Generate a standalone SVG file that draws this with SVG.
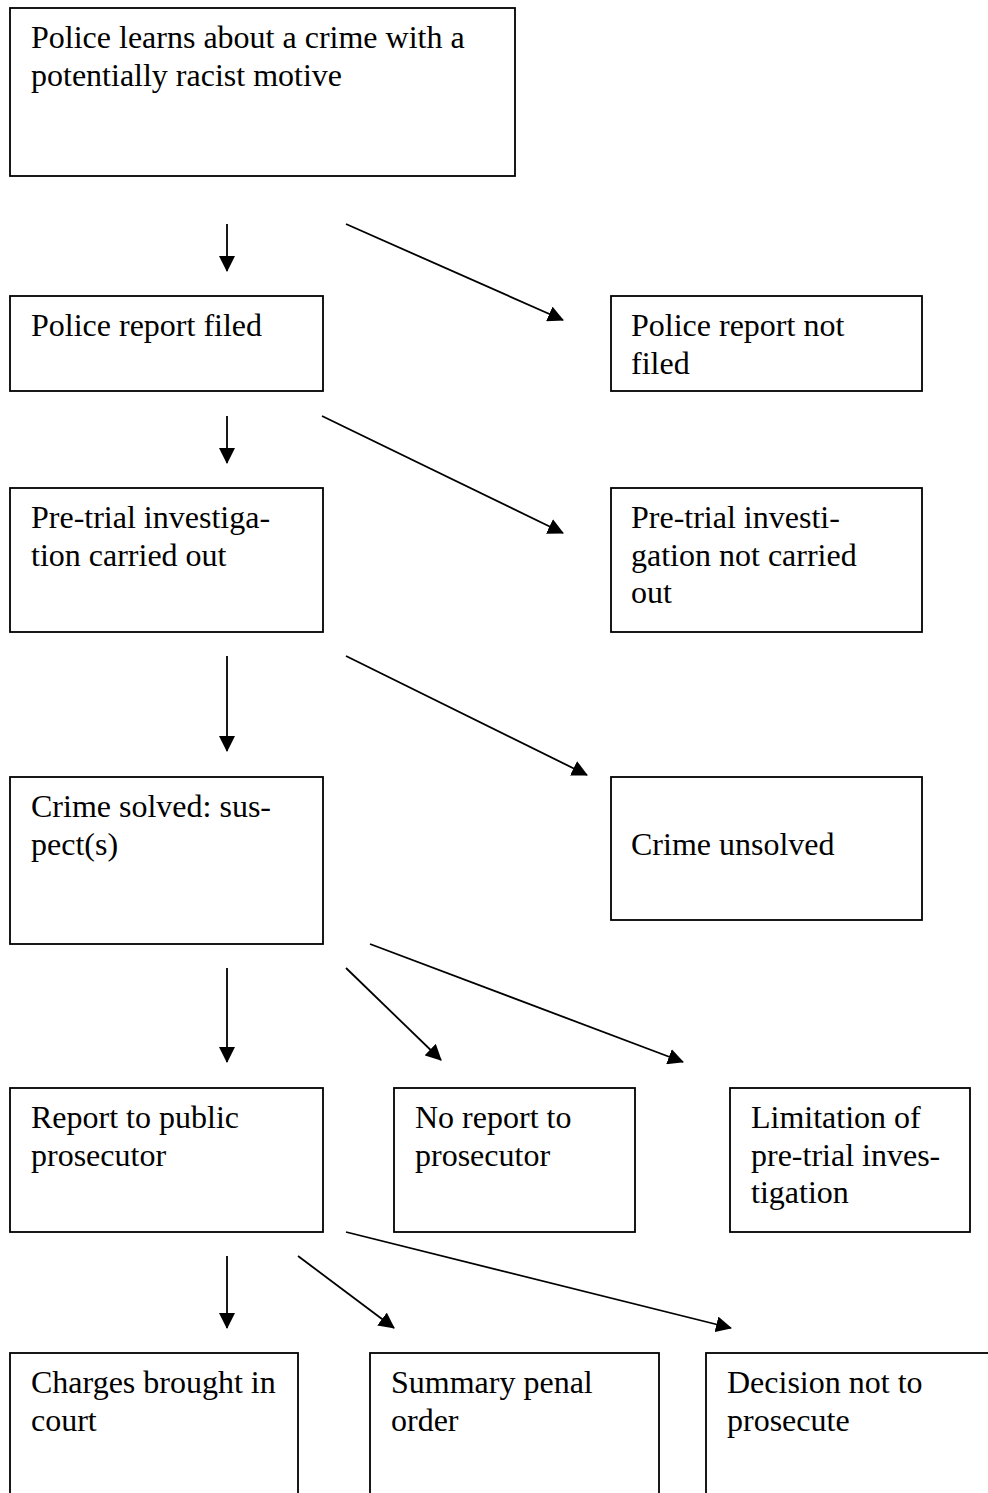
<svg xmlns="http://www.w3.org/2000/svg" width="988" height="1493" viewBox="0 0 988 1493">
<style>
.box{fill:#fff;stroke:#000;stroke-width:1.8}
.t{font-family:"Liberation Serif","Times New Roman",serif;font-size:32px;fill:#000}
.c{stroke:#000;stroke-width:1.8;fill:none;marker-end:url(#ah)}
</style>
<defs>
<marker id="ah" markerWidth="16" markerHeight="16" refX="15" refY="8" orient="auto" markerUnits="userSpaceOnUse" viewBox="0 0 16 16">
<path d="M0,0 L16,8 L0,16 z" fill="#000"/>
</marker>
</defs>
<rect width="988" height="1493" fill="#fff"/>
<g id="n1"><rect class="box" x="10" y="8" width="505" height="168"/><text class="t" x="31" y="48">Police learns about a crime with a</text><text class="t" x="31" y="85.5">potentially racist motive</text></g>
<g id="n2"><rect class="box" x="10" y="296" width="313" height="95"/><text class="t" x="31" y="336">Police report filed</text></g>
<g id="n2r"><rect class="box" x="611" y="296" width="311" height="95"/><text class="t" x="631" y="336">Police report not</text><text class="t" x="631" y="373.5">filed</text></g>
<g id="n3"><rect class="box" x="10" y="488" width="313" height="144"/><text class="t" x="31" y="528">Pre-trial investiga-</text><text class="t" x="31" y="565.5">tion carried out</text></g>
<g id="n3r"><rect class="box" x="611" y="488" width="311" height="144"/><text class="t" x="631" y="528">Pre-trial investi-</text><text class="t" x="631" y="565.5">gation not carried</text><text class="t" x="631" y="603">out</text></g>
<g id="n4"><rect class="box" x="10" y="777" width="313" height="167"/><text class="t" x="31" y="817">Crime solved: sus-</text><text class="t" x="31" y="854.5">pect(s)</text></g>
<g id="n4r"><rect class="box" x="611" y="777" width="311" height="143"/><text class="t" x="631" y="854.5">Crime unsolved</text></g>
<g id="n5"><rect class="box" x="10" y="1088" width="313" height="144"/><text class="t" x="31" y="1128">Report to public</text><text class="t" x="31" y="1165.5">prosecutor</text></g>
<g id="n5m"><rect class="box" x="394" y="1088" width="241" height="144"/><text class="t" x="415" y="1128">No report to</text><text class="t" x="415" y="1165.5">prosecutor</text></g>
<g id="n5r"><rect class="box" x="730" y="1088" width="240" height="144"/><text class="t" x="751" y="1128">Limitation of</text><text class="t" x="751" y="1165.5">pre-trial inves-</text><text class="t" x="751" y="1203">tigation</text></g>
<g id="n6"><rect class="box" x="10" y="1353" width="288" height="160"/><text class="t" x="31" y="1393">Charges brought in</text><text class="t" x="31" y="1430.5">court</text></g>
<g id="n6m"><rect class="box" x="370" y="1353" width="289" height="160"/><text class="t" x="391" y="1393">Summary penal</text><text class="t" x="391" y="1430.5">order</text></g>
<g id="n6r"><rect class="box" x="706" y="1353" width="300" height="160"/><text class="t" x="727" y="1393">Decision not to</text><text class="t" x="727" y="1430.5">prosecute</text></g>
<g id="connectors">
<line class="c" x1="227" y1="224" x2="227" y2="271"/>
<line class="c" x1="346" y1="224" x2="563" y2="320"/>
<line class="c" x1="227" y1="416" x2="227" y2="463"/>
<line class="c" x1="322" y1="416" x2="563" y2="533"/>
<line class="c" x1="227" y1="656" x2="227" y2="751"/>
<line class="c" x1="346" y1="656" x2="587" y2="775"/>
<line class="c" x1="227" y1="968" x2="227" y2="1062"/>
<line class="c" x1="346" y1="968" x2="441" y2="1060"/>
<line class="c" x1="370" y1="944" x2="683" y2="1062"/>
<line class="c" x1="227" y1="1256" x2="227" y2="1328"/>
<line class="c" x1="298" y1="1256" x2="394" y2="1328"/>
<line class="c" x1="346" y1="1232" x2="731" y2="1328"/>
</g>
</svg>
